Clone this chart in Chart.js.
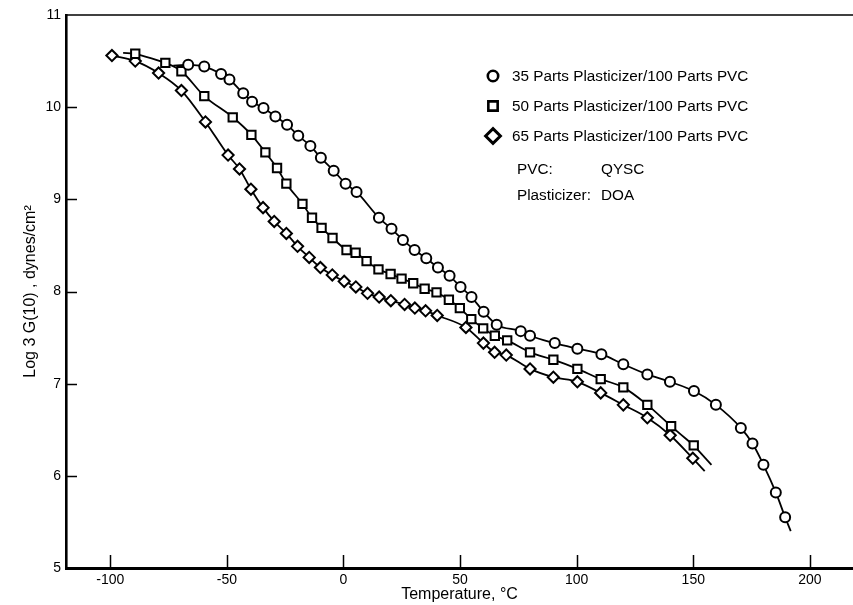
<!DOCTYPE html>
<html>
<head>
<meta charset="utf-8">
<script src="https://cdn.jsdelivr.net/npm/chart.js@4/dist/chart.umd.min.js"></script>
<style>
  html, body { margin: 0; padding: 0; background: #fff; }
  #wrap { width: 853px; height: 605px; }
</style>
</head>
<body>
<div id="wrap"><canvas id="c" width="853" height="605"></canvas></div>
<script>
// Shear modulus vs temperature for PVC (QYSC) plasticized with DOA.

const seriesLabels = [
  '35 Parts Plasticizer/100 Parts PVC',
  '50 Parts Plasticizer/100 Parts PVC',
  '65 Parts Plasticizer/100 Parts PVC'
];
const noteNames = ['PVC:', 'Plasticizer:'];
const noteValues = ['QYSC', 'DOA'];

const xTickValues = [-100, -50, 0, 50, 100, 150, 200];
const yTickValues = [5, 6, 7, 8, 9, 10, 11];
const xTitle = 'Temperature, °C';
const yTitle = 'Log 3 G(10) , dynes/cm²';

// 35 parts plasticizer
const temp35 = [-66.6, -59.7, -52.5, -48.9, -43.0, -39.2, -34.3, -29.2, -24.2, -19.4, -14.2, -9.7, -4.2, 0.9, 5.6,
  15.2, 20.6, 25.5, 30.5, 35.5, 40.5, 45.5, 50.2, 54.9, 60.1, 65.7, 76.0, 80.0, 90.6, 100.3, 110.6, 120.0, 130.3,
  140.0, 150.3, 159.7, 170.4, 175.4, 180.1, 185.4, 189.4];
const logG35 = [10.46, 10.44, 10.36, 10.30, 10.15, 10.06, 9.99, 9.90, 9.81, 9.69, 9.58, 9.45, 9.31, 9.17, 9.08,
  8.80, 8.68, 8.56, 8.45, 8.36, 8.26, 8.17, 8.05, 7.94, 7.78, 7.64, 7.57, 7.52, 7.44, 7.38, 7.32, 7.21, 7.10,
  7.02, 6.92, 6.77, 6.52, 6.35, 6.12, 5.82, 5.55];

// 50 parts plasticizer
const temp50 = [-89.3, -76.4, -69.5, -59.7, -47.5, -39.5, -33.5, -28.5, -24.5, -17.6, -13.5, -9.4, -4.7, 1.3, 5.2,
  9.9, 15.0, 20.2, 24.9, 29.9, 34.8, 39.9, 45.2, 49.9, 54.8, 59.9, 64.9, 70.2, 80.0, 90.0, 100.3, 110.3, 120.0,
  130.3, 140.5, 150.2];
const logG50 = [10.58, 10.48, 10.39, 10.12, 9.89, 9.70, 9.51, 9.34, 9.17, 8.95, 8.80, 8.69, 8.58, 8.45, 8.42,
  8.33, 8.24, 8.19, 8.14, 8.09, 8.03, 7.99, 7.91, 7.82, 7.70, 7.60, 7.52, 7.47, 7.34, 7.26, 7.16, 7.05, 6.96,
  6.77, 6.54, 6.33];

// 65 parts plasticizer
const temp65 = [-99.3, -89.3, -79.3, -69.5, -59.2, -49.5, -44.6, -39.7, -34.5, -29.7, -24.5, -19.7, -14.7, -9.9,
  -4.8, 0.3, 5.3, 10.3, 15.3, 20.3, 26.2, 30.6, 35.2, 40.2, 52.5, 60.0, 64.8, 69.8, 80.0, 90.0, 100.3, 110.3,
  120.0, 130.3, 140.1, 149.8];
const logG65 = [10.56, 10.50, 10.37, 10.18, 9.84, 9.48, 9.33, 9.11, 8.91, 8.76, 8.63, 8.49, 8.37, 8.26,
  8.18, 8.11, 8.05, 7.98, 7.94, 7.90, 7.86, 7.82, 7.79, 7.74, 7.61, 7.44, 7.34, 7.31, 7.16, 7.07, 7.02, 6.90,
  6.77, 6.63, 6.44, 6.19];

// Faired curve ends drawn past the first / last measured points
const lead35T = [-73.0, -66.6], lead35G = [10.45, 10.46];
const tail35T = [189.4, 191.8], tail35G = [5.55, 5.40];
const lead50T = [-94.5, -89.3], lead50G = [10.59, 10.58];
const tail50T = [150.2, 157.8], tail50G = [6.33, 6.12];
const tail65T = [149.8, 154.9], tail65G = [6.19, 6.05];

const FONT = '"Liberation Sans", Arial, sans-serif';
const INK = '#000';

const toXY = (xs, ys) => xs.map((x, i) => ({ x: x, y: ys[i] }));

const markerDefaults = {
  showLine: true,
  borderColor: INK,
  borderWidth: 1.8,
  pointBackgroundColor: '#fff',
  pointBorderColor: INK,
  pointBorderWidth: 2,
  pointHoverRadius: 0,
  cubicInterpolationMode: 'monotone',
  fill: false
};
const curveOnly = {
  showLine: true,
  borderColor: INK,
  borderWidth: 1.8,
  pointRadius: 0,
  pointHoverRadius: 0,
  fill: false
};

const datasets = [
  Object.assign({ label: seriesLabels[0], data: toXY(temp35, logG35), pointStyle: 'circle', pointRadius: 5 }, markerDefaults),
  Object.assign({ label: seriesLabels[1], data: toXY(temp50, logG50), pointStyle: 'rect', pointRadius: 5.9 }, markerDefaults),
  Object.assign({ label: seriesLabels[2], data: toXY(temp65, logG65), pointStyle: 'rectRot', pointRadius: 5.6 }, markerDefaults),
  Object.assign({ label: '', data: toXY(lead35T, lead35G) }, curveOnly),
  Object.assign({ label: '', data: toXY(tail35T, tail35G) }, curveOnly),
  Object.assign({ label: '', data: toXY(lead50T, lead50G) }, curveOnly),
  Object.assign({ label: '', data: toXY(tail50T, tail50G) }, curveOnly),
  Object.assign({ label: '', data: toXY(tail65T, tail65G) }, curveOnly)
];

// Inward tick marks and the top frame line
const frameTicks = {
  id: 'frameTicks',
  afterDatasetsDraw(chart) {
    const { ctx, chartArea: a, scales } = chart;
    ctx.save();
    ctx.strokeStyle = INK;
    ctx.lineWidth = 1.5;
    ctx.beginPath();
    xTickValues.forEach(v => {
      const px = Math.round(scales.x.getPixelForValue(v)) + 0.5;
      ctx.moveTo(px, a.bottom);
      ctx.lineTo(px, a.bottom - 13);
    });
    yTickValues.slice(1, -1).forEach(v => {
      const py = Math.round(scales.y.getPixelForValue(v)) + 0.5;
      ctx.moveTo(a.left, py);
      ctx.lineTo(a.left + 11, py);
    });
    ctx.stroke();
    ctx.beginPath();
    ctx.lineWidth = 1.6;
    ctx.moveTo(a.left, a.top);
    ctx.lineTo(a.right, a.top);
    ctx.stroke();
    ctx.restore();
  }
};

// Key with marker symbols, then the material notes
const keyBox = {
  id: 'keyBox',
  afterDraw(chart) {
    const { ctx } = chart;
    const drawPoint = Chart.helpers && Chart.helpers.drawPoint;
    ctx.save();
    ctx.font = '15.3px ' + FONT;
    ctx.textBaseline = 'middle';
    ctx.textAlign = 'left';
    const rowY = [76, 106, 136];
    const keySizes = [5.2, 6.6, 7.4];
    const keyWidths = [2.6, 2.6, 3];
    for (let i = 0; i < 3; i++) {
      const ds = chart.data.datasets[i];
      ctx.fillStyle = '#fff';
      ctx.strokeStyle = INK;
      ctx.lineWidth = keyWidths[i];
      if (drawPoint) {
        drawPoint(ctx, { pointStyle: ds.pointStyle, radius: keySizes[i], borderWidth: keyWidths[i], rotation: 0 }, 493, rowY[i]);
      }
      ctx.fillStyle = INK;
      ctx.fillText(ds.label, 512, rowY[i] + 1);
    }
    const noteY = [170, 196];
    for (let i = 0; i < noteNames.length; i++) {
      ctx.fillText(noteNames[i], 517, noteY[i]);
      ctx.fillText(noteValues[i], 601, noteY[i]);
    }
    ctx.restore();
  }
};

new Chart(document.getElementById('c'), {
  type: 'scatter',
  data: { datasets: datasets },
  options: {
    responsive: false,
    animation: false,
    devicePixelRatio: 1,
    events: [],
    layout: { autoPadding: false, padding: { top: 15, right: 0, bottom: 0, left: 0 } },
    plugins: { legend: { display: false }, tooltip: { enabled: false } },
    scales: {
      x: {
        type: 'linear',
        min: -119,
        max: 218.5,
        afterBuildTicks(scale) { scale.ticks = xTickValues.map(v => ({ value: v })); },
        afterFit(scale) { scale.height = 37; scale.paddingLeft = 0; scale.paddingRight = 0; },
        grid: { display: false, drawTicks: false },
        border: { display: true, color: INK, width: 3 },
        ticks: { color: INK, padding: 4, font: { family: FONT, size: 14 }, maxRotation: 0, autoSkip: false },
        title: { display: true, text: xTitle, color: INK, font: { family: FONT, size: 16 }, padding: { top: 0, bottom: 1 } }
      },
      y: {
        type: 'linear',
        min: 5,
        max: 11,
        afterBuildTicks(scale) { scale.ticks = yTickValues.map(v => ({ value: v })); },
        afterFit(scale) { scale.width = 66; scale.paddingTop = 0; scale.paddingBottom = 0; },
        grid: { display: false, drawTicks: false },
        border: { display: true, color: INK, width: 2.6 },
        ticks: { color: INK, padding: 5, font: { family: FONT, size: 14 }, autoSkip: false },
        title: { display: true, text: yTitle, color: INK, font: { family: FONT, size: 16 }, padding: { top: 21, bottom: 0 } }
      }
    }
  },
  plugins: [frameTicks, keyBox]
});
</script>
</body>
</html>
